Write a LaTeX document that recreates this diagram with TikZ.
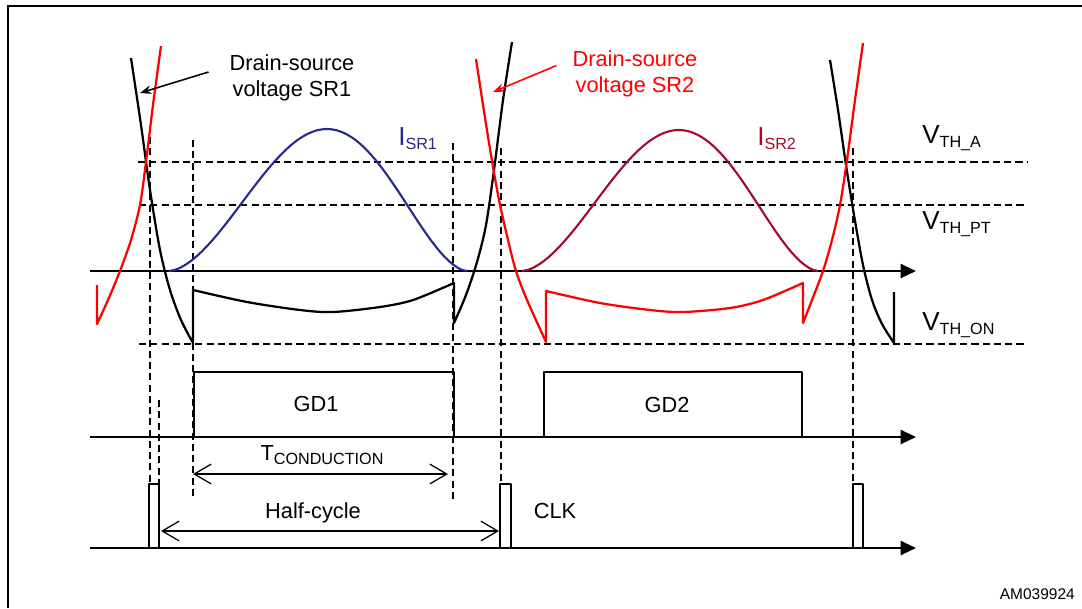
\documentclass[tikz,border=0pt]{standalone}
\usepackage{fontspec}
\setmainfont{Liberation Sans}
\usetikzlibrary{arrows.meta}
\definecolor{isrone}{RGB}{40,40,145}
\definecolor{isrtwo}{RGB}{165,10,40}
\newcommand{\lowsub}[1]{\raisebox{-3.5pt}{\fontsize{11.5}{12}\selectfont #1}}

\begin{document}
\begin{tikzpicture}[x=0.025cm, y=-0.025cm,
frame/.style={line width=2pt},
axis/.style={line width=1.6pt, -{Triangle[length=11pt,width=10pt]}},
thr/.style={line width=1pt, dash pattern=on 5pt off 3pt},
wave/.style={line width=1.6pt, line join=round},
bell/.style={line width=1.5pt},
dim/.style={line width=0.9pt, {Straight Barb[length=12pt,width=14pt]}-{Straight Barb[length=12pt,width=14pt]}},
pointer/.style={line width=1.1pt, -{Stealth[length=8pt,width=6pt]}},
lbl/.style={inner sep=0pt, font=\fontsize{15.5}{18}\selectfont},
vlbl/.style={inner sep=0pt, font=\fontsize{18.5}{20}\selectfont, anchor=base west}]
    \useasboundingbox (0,0) rectangle (1082,608);
    \draw[frame] (8,608) -- (8,6) -- (1082,6);

    % threshold levels
    \draw[thr] (138,162) -- (1027,162);
    \draw[thr] (139,205) -- (1027,205);
    \draw[thr] (139,344) -- (1027,344);
    \node[vlbl] (vtha) at (922,143) {V\lowsub{TH\_A}};
    \node[vlbl] (vthpt) at (922,229) {V\lowsub{TH\_PT}};
    \node[vlbl] (vthon) at (922,330) {V\lowsub{TH\_ON}};

    % timing markers
    \draw[thr] (150,137) -- (150,484);
    \draw[thr] (159,400) -- (159,484);
    \draw[thr] (193,140) -- (193,498);
    \draw[thr] (453,143) -- (453,500);
    \draw[thr] (501,148) -- (501,484);
    \draw[thr] (853,148) -- (853,484);

    % axes
    \coordinate (vdsO) at (90,271);   \coordinate (vdsE) at (916,271);
    \coordinate (gdO) at (90,437);    \coordinate (gdE) at (916,437);
    \coordinate (clkO) at (90,548);   \coordinate (clkE) at (916,548);
    \draw[axis] (vdsO) -- (vdsE);
    \draw[axis] (gdO) -- (gdE);
    \draw[axis] (clkO) -- (clkE);

    % currents
    \draw[bell, isrone] plot[domain=0:180, samples=61]
        ({169+298*(\x/180+0.03*sin(\x))}, {271-142*pow(max(sin(\x),0.01),1.7)});
    \draw[bell, isrtwo] plot[domain=0:180, samples=61]
        ({522+296*(\x/180+0.03*sin(\x))}, {271-141*pow(max(sin(\x),0.01),1.7)});
    \node[vlbl, text=isrone] (isra) at (398,145) {I\lowsub{SR1}};
    \node[vlbl, text=isrtwo] (isrb) at (757,145) {I\lowsub{SR2}};

    % drain-source voltages
    \draw[wave] plot[smooth] coordinates {(131,58) (141,125) (150,190) (160,250) (170,290) (181,320) (193,343)}
        -- plot[smooth] coordinates {(193,290) (247,302) (300,310) (333,312) (380,307) (413,300) (454,283)}
        -- plot[smooth] coordinates {(454,323) (466,295) (477,262) (486,225) (494,170) (503,100) (512,42)};
    \draw[wave] plot[smooth] coordinates {(830,60) (838,110) (846,165) (854,215) (863,265) (872,300) (882,324) (894,343)}
        -- (894,292);
    \draw[wave, red] (97,285)
        -- plot[smooth] coordinates {(97,324) (108,300) (120,271) (131,240) (140,205) (146,162) (153,105) (161,46)};
    \draw[wave, red] plot[smooth] coordinates {(476,59) (483,105) (491,155) (499,200) (508,240) (516,271) (527,300) (546,342)}
        -- plot[smooth] coordinates {(546,291) (600,303) (650,310) (683,312) (730,308) (763,300) (803,283)}
        -- plot[smooth] coordinates {(803,323) (812,300) (823,271) (832,240) (840,205) (847,160) (855,100) (863,43)};

    \node[lbl, align=center] (dsa) at (292,78) {Drain-source\\voltage SR1};
    \node[lbl, align=center, text=red] (dsb) at (635,74) {Drain-source\\voltage SR2};
    \coordinate (dsatip) at (140,93);
    \coordinate (dsbtip) at (493,92);
    \draw[pointer] ([xshift=-0.52cm, yshift=0.15cm]dsa.west) -- (dsatip);
    \draw[pointer, red] ([xshift=-0.4cm, yshift=0.21cm]dsb.west) -- (dsbtip);

    % gate drive
    \draw[wave] (194,437) rectangle (454,372);
    \draw[wave] (544,437) rectangle (802,372);
    \node[lbl] (gda) at (316,404) {GD1};
    \node[lbl] (gdb) at (667,405) {GD2};

    % clock
    \draw[wave] (149,548) rectangle (159,484);
    \draw[wave] (500,548) rectangle (511,484);
    \draw[wave] (853,548) rectangle (863,484);
    \node[lbl] (clk) at (555,511) {CLK};

    % durations
    \coordinate (tcl) at (193,474);  \coordinate (tcr) at (448,474);
    \coordinate (hcl) at (161,531);  \coordinate (hcr) at (499,531);
    \draw[dim] (tcl) -- (tcr);
    \draw[dim] (hcl) -- (hcr);
    \node[lbl, anchor=base] (tcond) at (322,460) {T\lowsub{CONDUCTION}};
    \node[lbl, anchor=base] (half) at (313,518) {Half-cycle};

    \node[inner sep=0pt, font=\fontsize{11}{12}\selectfont, anchor=base east] (ref) at (1075,599) {AM039924};
\end{tikzpicture}
\end{document}
